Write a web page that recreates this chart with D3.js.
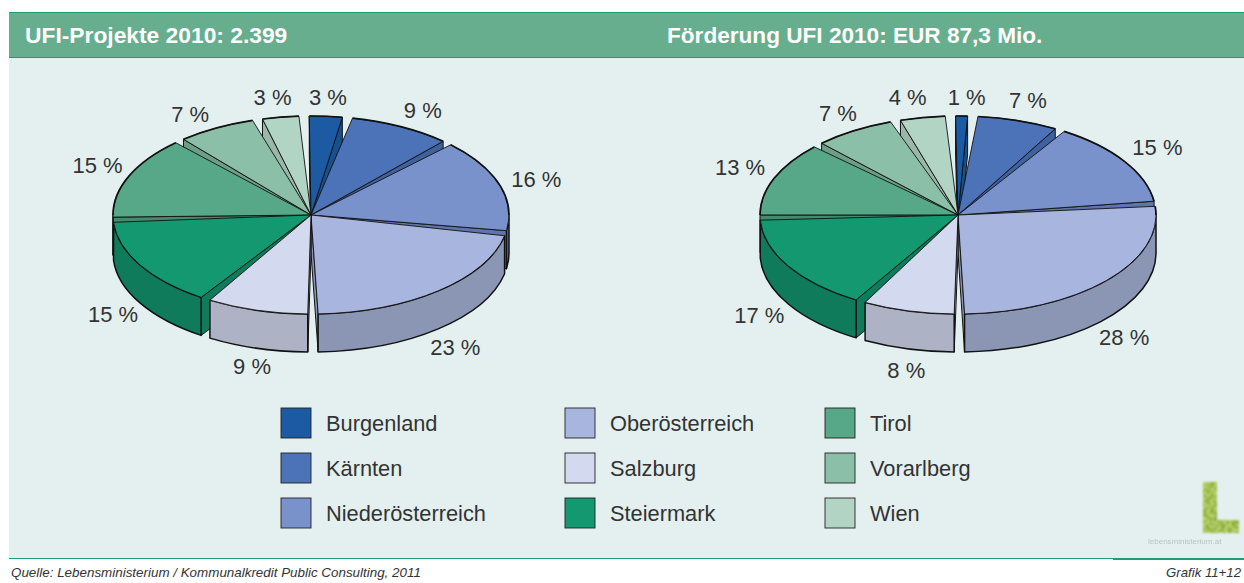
<!DOCTYPE html>
<html>
<head>
<meta charset="utf-8">
<script src="https://cdnjs.cloudflare.com/ajax/libs/d3/7.8.5/d3.min.js"></script>
<style>
  html, body { margin: 0; padding: 0; background: #fff; }
  svg { display: block; }
  text { font-family: "Liberation Sans", Arial, sans-serif; }
</style>
</head>
<body>
<div id="chart"></div>
<script>
const regions = ["Burgenland", "Kärnten", "Niederösterreich", "Oberösterreich", "Salzburg", "Steiermark", "Tirol", "Vorarlberg", "Wien"];

// printed labels
const projektLabels = ["3 %", "9 %", "16 %", "23 %", "9 %", "15 %", "15 %", "7 %", "3 %"];
const foerderLabels = ["1 %", "7 %", "15 %", "28 %", "8 %", "17 %", "13 %", "7 %", "4 %"];

// wedge sizes (the original's 3D skew makes them differ a bit from the printed labels)
const projektShares = [3.5, 9.1, 15.9, 21.9, 9.1, 15.3, 14.2, 7.2, 3.8];
const foerderShares = [1.8, 7.4, 14.6, 26.7, 8.3, 16.4, 12.9, 7.4, 4.5];

const topColors = ["#1c5ba3", "#4c72b8", "#7a92cb", "#a8b5df", "#d3d9ee", "#149870", "#57a888", "#8bbfa7", "#b2d4c5"];
const sideColors = ["#184f8e", "#3f619f", "#5f74aa", "#8b96b5", "#adb2c4", "#0f7b5a", "#468a6e", "#6c9e88", "#9ab8aa"];

const width = 1244, height = 583;
const rx = 198, ry = 99, depth = 38;
const gap = 3 * Math.PI / 180;

const topColor = d3.scaleOrdinal().domain(regions).range(topColors);
const sideColor = d3.scaleOrdinal().domain(regions).range(sideColors);

const svg = d3.select("#chart").append("svg").attr("width", width).attr("height", height);

// Background panel and header band
svg.append("rect").attr("x", 9).attr("y", 58).attr("width", width - 9).attr("height", 500).attr("fill", "#e3f0ef");
svg.append("rect").attr("x", 9).attr("y", 12).attr("width", width - 9).attr("height", 46).attr("fill", "#66ae8e");
svg.append("rect").attr("x", 9).attr("y", 12).attr("width", width - 9).attr("height", 1).attr("fill", "#1f9c78");
svg.append("rect").attr("x", 9).attr("y", 57).attr("width", width - 9).attr("height", 1).attr("fill", "#1f9c78");
svg.append("rect").attr("x", 9).attr("y", 558).attr("width", 1104).attr("height", 1).attr("fill", "#1f9c78");
svg.append("rect").attr("x", 1113).attr("y", 558).attr("width", width - 1113).attr("height", 2).attr("fill", "#1f9c78");

svg.append("text").attr("x", 25).attr("y", 43).attr("font-size", 22.8).attr("font-weight", "bold").attr("fill", "#fff").text("UFI-Projekte 2010: 2.399");
svg.append("text").attr("x", 667).attr("y", 43).attr("font-size", 22.6).attr("font-weight", "bold").attr("fill", "#fff").text("Förderung UFI 2010: EUR 87,3 Mio.");

// One exploded looking 3D pie
function drawPie(cx, cy, shares, labels, startDeg, nudges) {
  const rim = (a, dy = 0) => [cx + rx * Math.sin(a), cy - ry * Math.cos(a) + dy];
  const arcTo = (a0, a1, dy, sweep) => {
    const [x, y] = rim(a1, dy);
    return `A${rx},${ry} 0 ${Math.abs(a1 - a0) > Math.PI ? 1 : 0} ${sweep} ${x},${y}`;
  };

  const start = startDeg * Math.PI / 180;
  const slices = d3.pie().sort(null).value((d) => d.share).startAngle(start).endAngle(start + 2 * Math.PI)(
    shares.map((share, i) => ({ share, region: regions[i], label: labels[i], nudge: nudges[i] }))
  );
  slices.forEach((s) => {
    s.a0 = s.startAngle + gap / 2;
    s.a1 = s.endAngle - gap / 2;
    s.mid = (s.startAngle + s.endAngle) / 2;
  });

  const g = svg.append("g");
  const order = slices.slice().sort((p, q) => Math.cos(q.mid) - Math.cos(p.mid));

  order.forEach((s) => {
    const sliceG = g.append("g");
    const wall = (a) => {
      const p = rim(a), b = rim(a, depth);
      sliceG.append("path")
        .attr("d", `M${cx},${cy}L${p}L${b}L${cx},${cy + depth}Z`)
        .attr("fill", sideColor(s.data.region)).attr("stroke", "#111").attr("stroke-width", 1).attr("stroke-linejoin", "round");
    };
    // cut faces: only the ones turned towards the viewer
    if (Math.sin(s.a0) < 0) wall(s.a0);
    if (Math.sin(s.a1) > 0) wall(s.a1);

    // outer wall, front half only
    const from = Math.max(s.a0, Math.PI / 2), to = Math.min(s.a1, 3 * Math.PI / 2);
    if (to > from) {
      sliceG.append("path")
        .attr("d", `M${rim(from)}${arcTo(from, to, 0, 1)}L${rim(to, depth)}${arcTo(to, from, depth, 0)}Z`)
        .attr("fill", sideColor(s.data.region)).attr("stroke", "#111").attr("stroke-width", 1.5).attr("stroke-linejoin", "round");
    }

    sliceG.append("path")
      .attr("d", `M${cx},${cy}L${rim(s.a0)}${arcTo(s.a0, s.a1, 0, 1)}Z`)
      .attr("fill", topColor(s.data.region)).attr("stroke", "#111").attr("stroke-width", 0.9).attr("stroke-linejoin", "round");

    // back rim is drawn heavier in the source
    const backArc = (a0, a1) => {
      if (a1 <= a0) return;
      sliceG.append("path")
        .attr("d", `M${rim(a0)}${arcTo(a0, a1, 0, 1)}`)
        .attr("fill", "none").attr("stroke", "#111").attr("stroke-width", 1.7);
    };
    backArc(s.a0, Math.min(s.a1, Math.PI / 2));
    backArc(Math.max(s.a0, 3 * Math.PI / 2), s.a1);
  });

  // Percent labels sit just outside the rim of their wedge
  svg.append("g").selectAll("text").data(slices).enter().append("text")
    .attr("x", (s) => rim(s.mid)[0] + s.data.nudge[0])
    .attr("y", (s) => rim(s.mid, Math.cos(s.mid) < 0 ? depth : 0)[1] + s.data.nudge[1])
    .attr("text-anchor", "middle")
    .attr("dominant-baseline", "central")
    .attr("font-size", 22)
    .attr("fill", "#333")
    .text((s) => s.data.label);
}

drawPie(311, 215, projektShares, projektLabels, -2,
  [[2, -19], [22, -16], [37, -5], [17, 19], [-5, 18], [-27, 12], [-31, -11], [-26, -14], [-8, -20]]);
drawPie(958, 215, foerderShares, foerderLabels, -2.2,
  [[5, -19], [10, -20], [33, -14], [18, 19], [-2, 22], [-29, 12], [-34, -11], [-16, -17], [-15, -20]]);

// Legend, three rows per column
const legendX = [281, 565, 825];
const legendY = [408, 453, 498];
const legend = svg.append("g").selectAll("g").data(regions).enter().append("g")
  .attr("transform", (d, i) => `translate(${legendX[Math.floor(i / 3)]},${legendY[i % 3]})`);
legend.append("rect").attr("width", 30).attr("height", 30)
  .attr("fill", (d) => topColor(d)).attr("stroke", "#222").attr("stroke-width", 0.9);
legend.append("text").attr("x", 45).attr("y", 23).attr("font-size", 21.8).attr("fill", "#333").text((d) => d);

// Logo, blurred in the source
const defs = svg.append("defs");
const mottle = defs.append("filter").attr("id", "mottle").attr("x", "-10%").attr("y", "-10%").attr("width", "120%").attr("height", "120%");
mottle.append("feTurbulence").attr("type", "fractalNoise").attr("baseFrequency", 0.28).attr("numOctaves", 2).attr("seed", 7).attr("result", "n");
mottle.append("feColorMatrix").attr("in", "n").attr("type", "matrix").attr("values", "0 0 0 0 0.28  0 0 0 0 0.42  0 0 0 0 0.05  6 0 0 0 -2.6").attr("result", "spots");
mottle.append("feComposite").attr("in", "spots").attr("in2", "SourceGraphic").attr("operator", "in").attr("result", "clipped");
mottle.append("feMerge").attr("result", "merged").call((m) => {
  m.append("feMergeNode").attr("in", "SourceGraphic");
  m.append("feMergeNode").attr("in", "clipped");
});
mottle.append("feGaussianBlur").attr("in", "merged").attr("stdDeviation", 0.8);
defs.append("filter").attr("id", "soft").append("feGaussianBlur").attr("stdDeviation", 0.6);

svg.append("path").attr("d", "M1203,482H1217V520H1239V533H1203Z").attr("fill", "#b4d168").attr("filter", "url(#mottle)");
svg.append("text").attr("x", 1148).attr("y", 544).attr("font-size", 8).attr("fill", "#b7c4c2").attr("filter", "url(#soft)").text("lebensministerium.at");

// Footer
svg.append("text").attr("x", 11).attr("y", 577).attr("font-size", 13.4).attr("font-style", "italic").attr("fill", "#333")
  .text("Quelle: Lebensministerium / Kommunalkredit Public Consulting, 2011");
svg.append("text").attr("x", 1241).attr("y", 577).attr("text-anchor", "end").attr("font-size", 13.2).attr("font-style", "italic").attr("fill", "#333")
  .text("Grafik 11+12");
</script>
</body>
</html>
